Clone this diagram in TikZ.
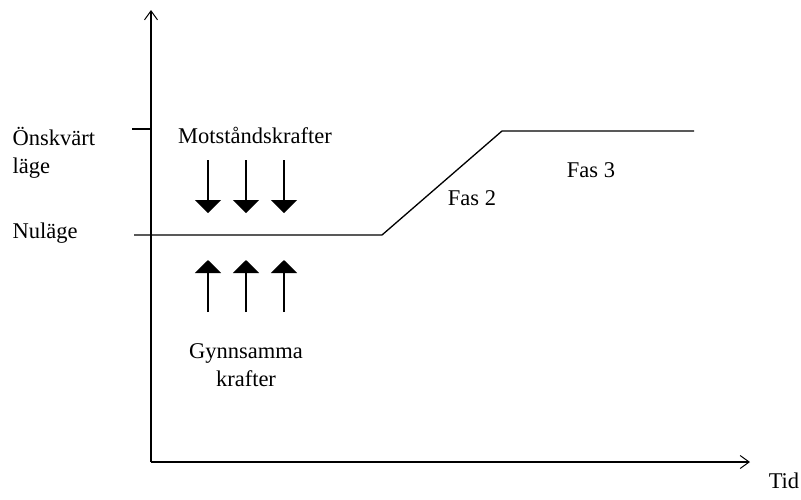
\documentclass[tikz,border=0pt]{standalone}
\usepackage{fontspec}
\setmainfont{Liberation Serif}
\usetikzlibrary{arrows.meta,positioning}

\begin{document}
\begin{tikzpicture}[
  x=1pt, y=-1pt,
  font=\fontsize{22.5}{28}\selectfont,
  line width=1.3pt,
  axis/.style={draw, -{Straight Barb[length=9pt,width=13pt,line width=1pt]}},
  force/.style={draw, line width=1.4pt, -{Triangle[length=13pt,width=26pt]}},
  lbl/.style={inner sep=0pt, align=center}
]
  \useasboundingbox (0,0) rectangle (801,499);

  % axes
  \coordinate (o) at (151,462);
  \coordinate (ytop) at (151,10);
  \coordinate (xend) at (750,462);
  \path (o) edge[axis] (ytop);
  \path (o) edge[axis] (xend);

  % tick for desired state
  \coordinate (tick) at (132,129);
  \draw (tick) -- (tick -| o);

  % level curve
  \coordinate (now) at (134,235);
  \coordinate (bend1) at (382,235);
  \coordinate (bend2) at (502,131);
  \coordinate (goal) at (694,131);
  \draw (now) -- (bend1) -- (bend2) -- (goal);

  % labels
  \node[lbl, anchor=west, align=left] (onsk) at (12,153) {Önskvärt\\läge};
  \node[lbl, anchor=base west] (nu) at (12,238) {Nuläge};
  \node[lbl, anchor=base] (mot) at (255,143) {Motståndskrafter};
  \node[lbl] (gyn) at (246,365) {Gynnsamma\\krafter};
  \node[lbl, anchor=base] (fas2) at (472,205) {Fas 2};
  \node[lbl, anchor=base] (fas3) at (591,177) {Fas 3};
  \node[lbl, anchor=base] (tid) at (784,488) {Tid};

  % forces
  \foreach \x [count=\i] in {208,246,284} {
    \coordinate (d\i s) at (\x,160);
    \coordinate (d\i e) at (\x,213);
    \path (d\i s) edge[force] (d\i e);
    \coordinate (u\i s) at (\x,312);
    \coordinate (u\i e) at (\x,260);
    \path (u\i s) edge[force] (u\i e);
  }
\end{tikzpicture}
\end{document}
